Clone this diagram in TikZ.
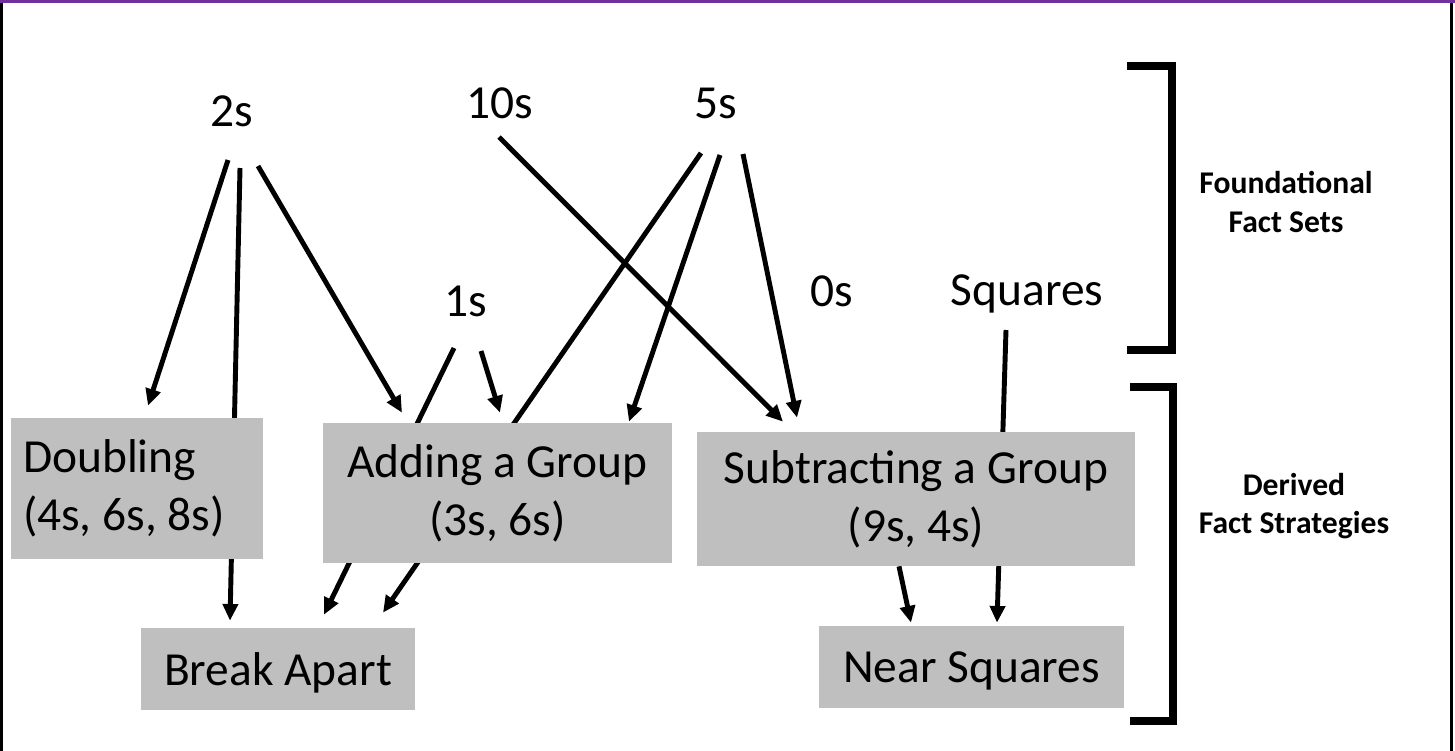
\documentclass[tikz,border=0pt]{standalone}
\usepackage{fontspec}
\setmainfont{Carlito}
\usetikzlibrary{arrows.meta,calc,backgrounds}
\definecolor{boxgray}{HTML}{BFBFBF}
\definecolor{framepurple}{HTML}{7030A0}
\begin{document}
\begin{tikzpicture}[
    x=0.02cm, y=-0.02cm,
    fact/.style={inner sep=0pt, font=\fontsize{27pt}{33pt}\selectfont},
    box/.style={rectangle, fill=boxgray, inner sep=0pt, align=center, font=\fontsize{27pt}{33pt}\selectfont},
    tier/.style={align=center, inner sep=0pt, font=\fontsize{18pt}{22pt}\selectfont\bfseries},
    arrow/.style={-{Triangle[length=9.5pt,width=8.5pt]}, line width=2.8pt},
    bracket/.style={line width=4.2pt}
]
\useasboundingbox (0,0) rectangle (1455,751);

% Frame
\draw[line width=1.7pt] (1.5,0) -- (1.5,751);
\draw[line width=1.7pt] (1451.5,0) -- (1451.5,751);
\draw[framepurple, line width=1.7pt] (0,1.5) -- (1455,1.5);

% Foundational fact sets
\node[fact] (twos) at (232,111) {2s};
\node[fact] (tens) at (500,103) {10s};
\node[fact] (fives) at (716,103) {5s};
\node[fact] (ones) at (466,301) {1s};
\node[fact] (zeros) at (832,291) {0s};
\node[fact] (squares) at (1027,294) {Squares};

% Derived fact strategies
\node[box, text width=4.56cm, align=flush left, inner xsep=0.24cm, minimum height=2.82cm] (doubling) at (137,488.5) {Doubling\\(4s, 6s, 8s)};
\node[box, minimum width=6.98cm, minimum height=2.8cm] (adding) at (497.5,493) {Adding a Group\\(3s, 6s)};
\node[box, minimum width=8.76cm, minimum height=2.68cm] (subtracting) at (916,499) {Subtracting a Group\\(9s, 4s)};
\node[box, text depth=0pt, minimum width=5.48cm, minimum height=1.64cm] (breakapart) at (278,669) {Break Apart};
\node[box, text depth=0pt, minimum width=6.1cm, minimum height=1.64cm] (nearsq) at (971.5,667) {Near Squares};

% Connectors (behind the boxes)
\begin{pgfonlayer}{background}
\draw[arrow] ($(twos)+(-4,49)$) -- ($(doubling.north)+(11,-12)$);
\draw[arrow] ($(twos)+(8,57)$) -- ($(breakapart.north)+(-48,-7)$);
\draw[arrow] ($(twos)+(26,55)$) -- ($(adding.north)+(-95.5,-10)$);
\draw[arrow] ($(ones)+(-12,47)$) -- ($(breakapart.north)+(46,-13)$);
\draw[arrow] ($(ones)+(15,50)$) -- ($(adding.north)+(2.5,-10)$);
\draw[arrow] ($(fives)+(-15,50)$) -- ($(breakapart.north)+(105,-15)$);
\draw[arrow] ($(fives)+(4,52)$) -- ($(adding.north)+(131.5,-1)$);
\draw[arrow] ($(fives)+(27,51)$) -- ($(subtracting.north)+(-119,-14)$);
\draw[arrow] ($(tens)+(-1,34)$) -- ($(subtracting.north)+(-133,-10)$);
\draw[arrow] ($(squares)+(-21,36)$) -- ($(nearsq.north)+(25.5,-3)$);
\draw[arrow] ($(subtracting.south)+(-17,0)$) -- ($(nearsq.north)+(-60.5,-3)$);
\end{pgfonlayer}

% Brackets
\draw[bracket] (1127,66) -- (1172,66) -- (1172,350) -- (1127,350);
\draw[bracket] (1130,387) -- (1173,387) -- (1173,721) -- (1130,721);

% Tier labels
\node[tier] (foundlabel) at (1286,202) {Foundational\\Fact Sets};
\node[tier] (derivlabel) at (1294,506) {Derived\\Fact Strategies};

\end{tikzpicture}
\end{document}
